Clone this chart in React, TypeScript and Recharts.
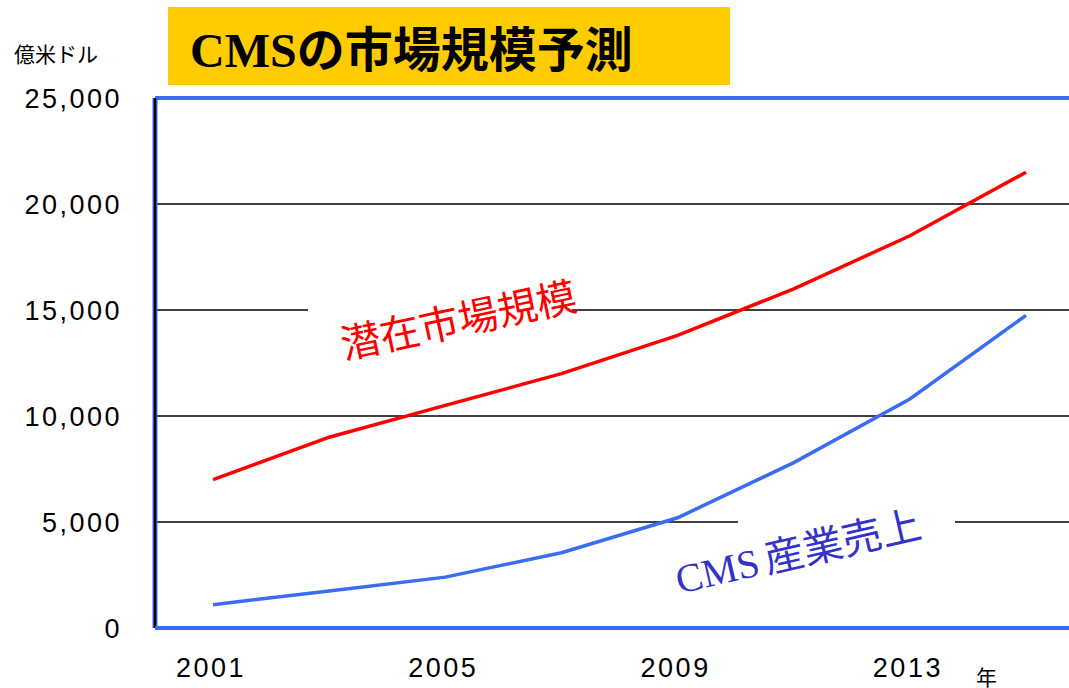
import React from "react";
import {
  CartesianGrid,
  Line,
  LineChart,
  ReferenceLine,
  XAxis,
  YAxis,
} from "recharts";

// years on the x axis (every two years)
const years = [2001, 2003, 2005, 2007, 2009, 2011, 2013, 2015];
// 潜在市場規模 (億米ドル)
const potentialMarket = [7000, 9000, 10500, 12000, 13800, 16000, 18500, 21500];
// CMS産業売上 (億米ドル)
const cmsSales = [1100, 1750, 2400, 3550, 5200, 7800, 10800, 14750];

const xTicks = [2001, 2005, 2009, 2013];
const yTicks = [0, 5000, 10000, 15000, 20000, 25000];

const data = years.map((year, i) => ({
  year,
  potential: potentialMarket[i],
  cms: cmsSales[i],
}));

const BLUE = "#3a6cf4";
const FONT = "'Liberation Sans', Arial, 'Noto Sans CJK JP', sans-serif";

const YTick = (props: any) => {
  const { x, y, payload } = props;
  return (
    <text
      x={x - 25}
      y={y + 10}
      textAnchor="end"
      fontSize={27}
      letterSpacing={2.5}
      fontFamily={FONT}
      fill="#000"
    >
      {payload.value.toLocaleString("en-US")}
    </text>
  );
};

const XTick = (props: any) => {
  const { x, y, payload } = props;
  return (
    <text
      x={x - 2}
      y={y + 41}
      textAnchor="middle"
      fontSize={27}
      letterSpacing={2.5}
      fontFamily={FONT}
      fill="#000"
    >
      {payload.value}
    </text>
  );
};

export default function App() {
  return (
    <div
      style={{
        position: "absolute",
        left: 0,
        top: 0,
        width: 1069,
        height: 688,
        background: "#fff",
        overflow: "hidden",
        fontFamily: FONT,
      }}
    >
      <LineChart
        width={1069}
        height={688}
        data={data}
        margin={{ top: 98, right: 0, bottom: 0, left: 0 }}
      >
        <CartesianGrid
          vertical={false}
          stroke="#000"
          strokeWidth={1.5}
          strokeOpacity={1}
        />
        <XAxis
          dataKey="year"
          type="number"
          domain={[2000, 2015.74]}
          ticks={xTicks}
          height={60}
          tickLine={false}
          axisLine={{ stroke: BLUE, strokeWidth: 4 }}
          tick={<XTick />}
          allowDataOverflow
        />
        <YAxis
          type="number"
          domain={[0, 25000]}
          ticks={yTicks}
          width={155}
          tickLine={false}
          axisLine={false}
          tick={<YTick />}
        />
        <ReferenceLine y={25000} stroke={BLUE} strokeWidth={4} />
        <ReferenceLine x={2000} stroke={BLUE} strokeWidth={5} />
        <ReferenceLine x={2000} stroke="#000" strokeWidth={2.5} />
        <Line
          dataKey="potential"
          stroke="#ff0000"
          strokeWidth={3.5}
          dot={false}
          isAnimationActive={false}
        />
        <Line
          dataKey="cms"
          stroke={BLUE}
          strokeWidth={3.5}
          dot={false}
          isAnimationActive={false}
        />
      </LineChart>

      {/* title */}
      <div
        style={{
          position: "absolute",
          left: 168,
          top: 7,
          width: 562,
          height: 78,
          background: "#ffcc00",
        }}
      >
        <div
          style={{
            position: "absolute",
            left: 22,
            top: 10,
            fontSize: 48,
            fontWeight: "bold",
            lineHeight: "58px",
            whiteSpace: "nowrap",
            color: "#000",
          }}
        >
          <span style={{ fontFamily: "'Liberation Serif', 'Times New Roman', serif" }}>
            CMS
          </span>
          <span style={{ fontFamily: "'Noto Sans CJK JP', sans-serif" }}>
            の市場規模予測
          </span>
        </div>
      </div>

      {/* unit labels */}
      <div
        style={{
          position: "absolute",
          left: 14,
          top: 39,
          fontSize: 21,
          fontFamily: "'Noto Sans CJK JP', sans-serif",
          lineHeight: "28px",
          color: "#000",
        }}
      >
        億米ドル
      </div>
      <div
        style={{
          position: "absolute",
          left: 976,
          top: 662,
          fontSize: 21,
          fontFamily: "'Noto Sans CJK JP', sans-serif",
          lineHeight: "28px",
          color: "#000",
        }}
      >
        年
      </div>

      {/* gaps in the grid behind the series labels */}
      <div style={{ position: "absolute", left: 308, top: 306, width: 264, height: 8, background: "#fff" }} />
      <div style={{ position: "absolute", left: 738, top: 516, width: 217, height: 8, background: "#fff" }} />

      {/* series labels */}
      <div
        style={{
          position: "absolute",
          left: 458,
          top: 318,
          transform: "translate(-50%, -50%) rotate(-12deg)",
          fontSize: 40,
          lineHeight: "48px",
          color: "#ff0000",
          whiteSpace: "nowrap",
          fontFamily: "'Noto Sans CJK JP', sans-serif",
        }}
      >
        潜在市場規模
      </div>
      <div
        style={{
          position: "absolute",
          left: 798,
          top: 551,
          transform: "translate(-50%, -50%) rotate(-13deg)",
          fontSize: 40,
          lineHeight: "48px",
          color: "#3333cc",
          whiteSpace: "nowrap",
        }}
      >
        <span
          style={{
            fontFamily: "'Liberation Serif', 'Times New Roman', serif",
            marginRight: 6,
          }}
        >
          CMS
        </span>
        <span style={{ fontFamily: "'Noto Sans CJK JP', sans-serif" }}>産業売上</span>
      </div>
    </div>
  );
}
